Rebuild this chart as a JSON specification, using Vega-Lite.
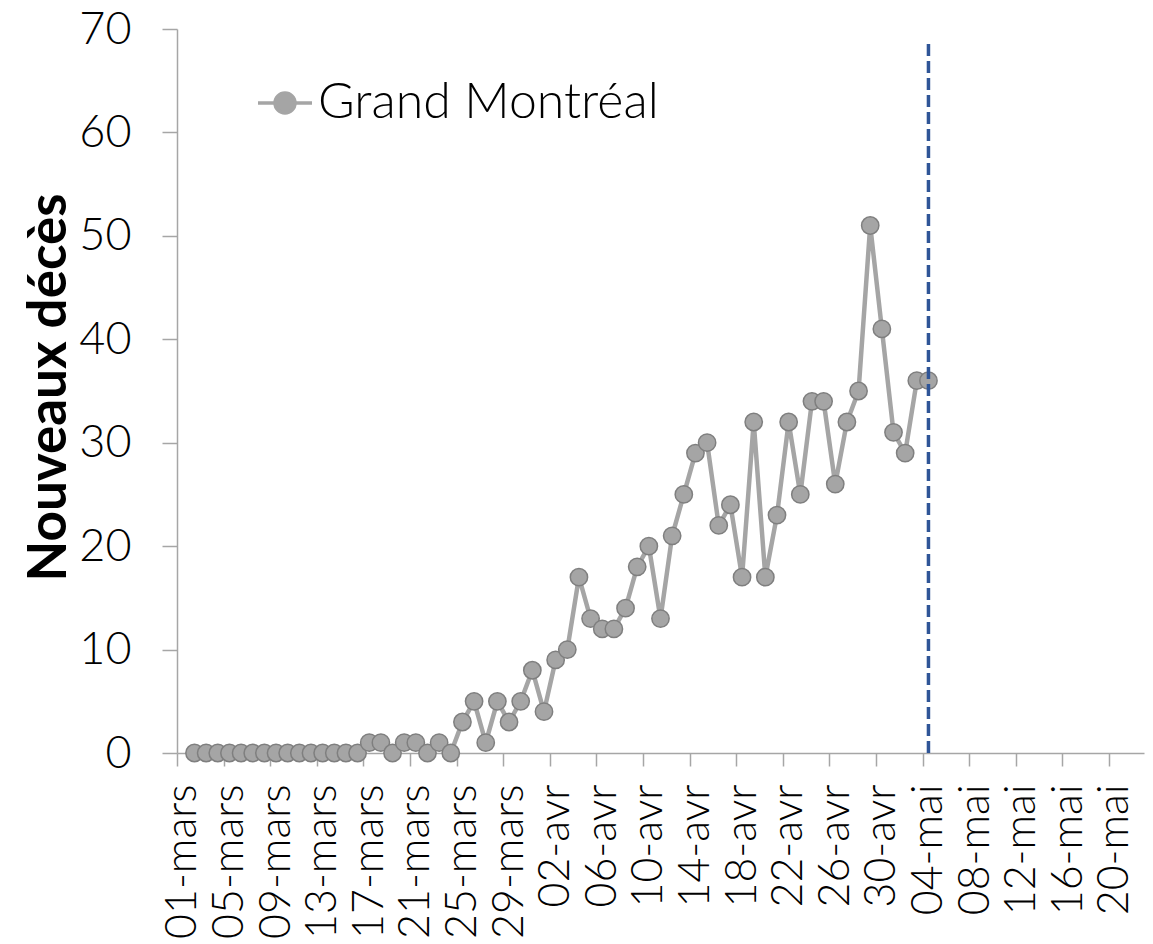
{
  "$schema": "https://vega.github.io/schema/vega-lite/v6.json",
  "autosize": "none",
  "width": 967,
  "height": 724,
  "padding": {"left": 177, "top": 29, "right": 9, "bottom": 191},
  "background": "white",
  "config": {"font": "Lato", "view": {"stroke": null}},
  "datasets": {
    "deaths": [
      {"d": "02-mars", "v": 0}, {"d": "03-mars", "v": 0}, {"d": "04-mars", "v": 0}, {"d": "05-mars", "v": 0},
      {"d": "06-mars", "v": 0}, {"d": "07-mars", "v": 0}, {"d": "08-mars", "v": 0}, {"d": "09-mars", "v": 0},
      {"d": "10-mars", "v": 0}, {"d": "11-mars", "v": 0}, {"d": "12-mars", "v": 0}, {"d": "13-mars", "v": 0},
      {"d": "14-mars", "v": 0}, {"d": "15-mars", "v": 0}, {"d": "16-mars", "v": 0}, {"d": "17-mars", "v": 1},
      {"d": "18-mars", "v": 1}, {"d": "19-mars", "v": 0}, {"d": "20-mars", "v": 1}, {"d": "21-mars", "v": 1},
      {"d": "22-mars", "v": 0}, {"d": "23-mars", "v": 1}, {"d": "24-mars", "v": 0}, {"d": "25-mars", "v": 3},
      {"d": "26-mars", "v": 5}, {"d": "27-mars", "v": 1}, {"d": "28-mars", "v": 5}, {"d": "29-mars", "v": 3},
      {"d": "30-mars", "v": 5}, {"d": "31-mars", "v": 8},
      {"d": "01-avr", "v": 4}, {"d": "02-avr", "v": 9}, {"d": "03-avr", "v": 10}, {"d": "04-avr", "v": 17},
      {"d": "05-avr", "v": 13}, {"d": "06-avr", "v": 12}, {"d": "07-avr", "v": 12}, {"d": "08-avr", "v": 14},
      {"d": "09-avr", "v": 18}, {"d": "10-avr", "v": 20}, {"d": "11-avr", "v": 13}, {"d": "12-avr", "v": 21},
      {"d": "13-avr", "v": 25}, {"d": "14-avr", "v": 29}, {"d": "15-avr", "v": 30}, {"d": "16-avr", "v": 22},
      {"d": "17-avr", "v": 24}, {"d": "18-avr", "v": 17}, {"d": "19-avr", "v": 32}, {"d": "20-avr", "v": 17},
      {"d": "21-avr", "v": 23}, {"d": "22-avr", "v": 32}, {"d": "23-avr", "v": 25}, {"d": "24-avr", "v": 34},
      {"d": "25-avr", "v": 34}, {"d": "26-avr", "v": 26}, {"d": "27-avr", "v": 32}, {"d": "28-avr", "v": 35},
      {"d": "29-avr", "v": 51}, {"d": "30-avr", "v": 41},
      {"d": "01-mai", "v": 31}, {"d": "02-mai", "v": 29}, {"d": "03-mai", "v": 36}, {"d": "04-mai", "v": 36}
    ],
    "marker": [{"d": "04-mai", "v": 0, "v2": 68.7}]
  },
  "encoding": {
    "x": {
      "field": "d",
      "type": "ordinal",
      "sort": null,
      "scale": {
        "type": "band",
        "paddingInner": 0,
        "paddingOuter": 0,
        "domain": [
          "01-mars","02-mars","03-mars","04-mars","05-mars","06-mars","07-mars","08-mars","09-mars","10-mars",
          "11-mars","12-mars","13-mars","14-mars","15-mars","16-mars","17-mars","18-mars","19-mars","20-mars",
          "21-mars","22-mars","23-mars","24-mars","25-mars","26-mars","27-mars","28-mars","29-mars","30-mars","31-mars",
          "01-avr","02-avr","03-avr","04-avr","05-avr","06-avr","07-avr","08-avr","09-avr","10-avr",
          "11-avr","12-avr","13-avr","14-avr","15-avr","16-avr","17-avr","18-avr","19-avr","20-avr",
          "21-avr","22-avr","23-avr","24-avr","25-avr","26-avr","27-avr","28-avr","29-avr","30-avr",
          "01-mai","02-mai","03-mai","04-mai","05-mai","06-mai","07-mai","08-mai","09-mai","10-mai",
          "11-mai","12-mai","13-mai","14-mai","15-mai","16-mai","17-mai","18-mai","19-mai","20-mai",
          "21-mai","22-mai"
        ]
      },
      "axis": {
        "title": null,
        "values": ["01-mars","05-mars","09-mars","13-mars","17-mars","21-mars","25-mars","29-mars",
                   "02-avr","06-avr","10-avr","14-avr","18-avr","22-avr","26-avr","30-avr",
                   "04-mai","08-mai","12-mai","16-mai","20-mai"],
        "bandPosition": 0.5,
        "tickOffset": -5.83,
        "labelOffset": 5.83,
        "labelAngle": -90,
        "labelFontSize": 43,
        "labelFontWeight": 300,
        "labelColor": "black",
        "labelPadding": 18,
        "labelOverlap": false,
        "labelLimit": 0,
        "tickSize": 13,
        "tickColor": "#A6A6A6",
        "tickWidth": 1.5,
        "domainColor": "#A6A6A6",
        "domainWidth": 1.5,
        "grid": false
      }
    },
    "y": {
      "field": "v",
      "type": "quantitative",
      "scale": {"domain": [0, 70], "nice": false},
      "axis": {
        "values": [0, 10, 20, 30, 40, 50, 60, 70],
        "grid": false,
        "tickSize": 15,
        "tickColor": "#A6A6A6",
        "tickWidth": 1.5,
        "domainColor": "#A6A6A6",
        "domainWidth": 1.5,
        "labelFontSize": 45,
        "labelFontWeight": 300,
        "labelColor": "black",
        "labelPadding": 31,
        "title": "Nouveaux décès",
        "titleFontSize": 53,
        "titleFontWeight": "bold",
        "titleColor": "black",
        "titleAngle": 270,
        "titleAlign": "center",
        "titleBaseline": "alphabetic",
        "titleX": -112,
        "titleY": 358
      }
    }
  },
  "layer": [
    {
      "data": {"name": "deaths"},
      "mark": {"type": "line", "strokeWidth": 4.5},
      "encoding": {
        "color": {
          "datum": "Grand Montréal",
          "scale": {"range": ["#A5A5A5"]},
          "legend": {
            "orient": "none",
            "legendX": 79,
            "legendY": 45,
            "title": null,
            "padding": 0,
            "symbolType": "M-1,0H-0.37M0.37,0H1M-0.37,0A0.37,0.37,0,1,1,0.37,0A0.37,0.37,0,1,1,-0.37,0Z",
            "symbolSize": 2916,
            "symbolStrokeWidth": 3.5,
            "symbolFillColor": "#A5A5A5",
            "symbolStrokeColor": "#A5A5A5",
            "labelFontSize": 50,
            "labelFontWeight": 300,
            "labelColor": "black",
            "labelOffset": 4,
            "labelLimit": 0
          }
        }
      }
    },
    {
      "data": {"name": "deaths"},
      "mark": {"type": "circle", "size": 300, "color": "#A5A5A5", "opacity": 1, "stroke": "#7F7F7F", "strokeWidth": 1.5}
    },
    {
      "data": {"name": "marker"},
      "mark": {"type": "rule", "color": "#2F5597", "strokeWidth": 3.5, "strokeDash": [12, 5]},
      "encoding": {"y2": {"field": "v2"}}
    }
  ]
}
